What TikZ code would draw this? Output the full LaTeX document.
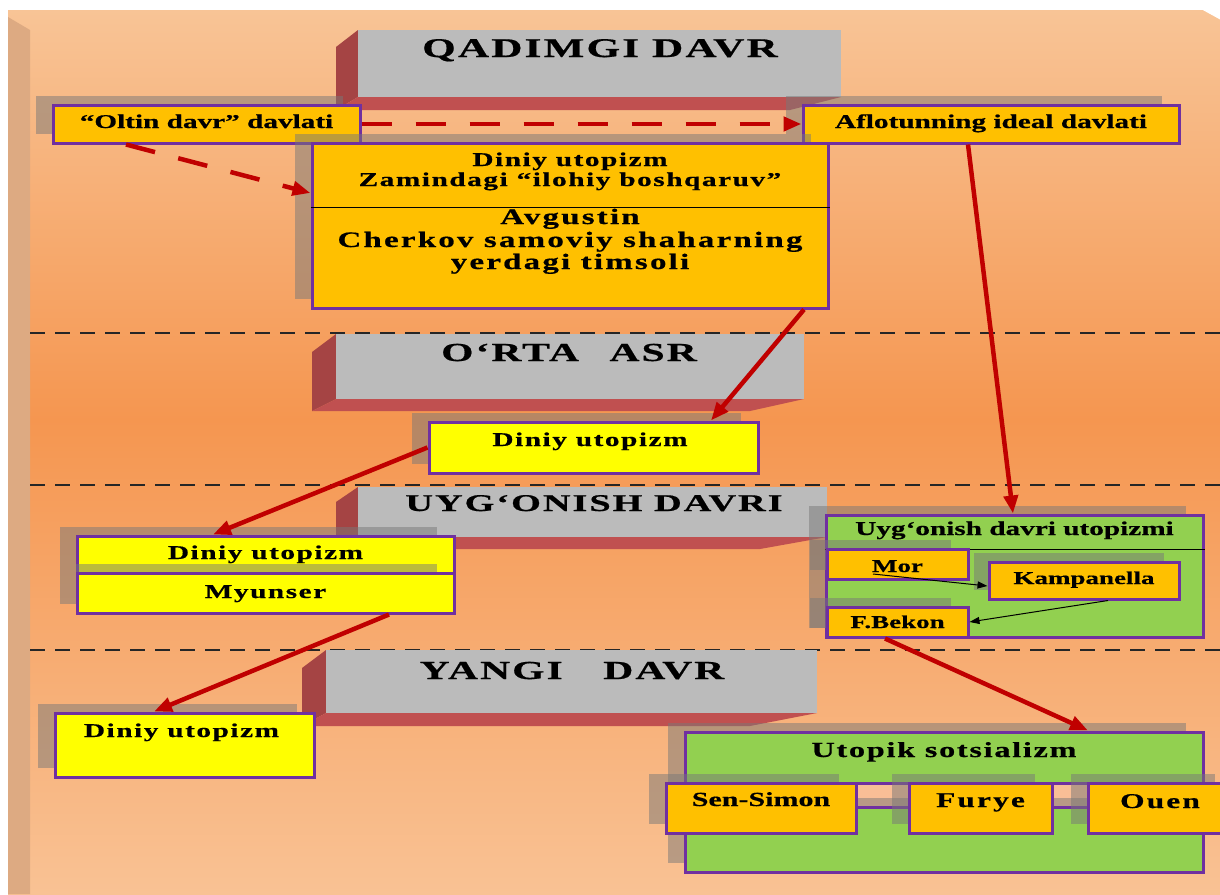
\documentclass[tikz,border=0pt]{standalone}
\usepackage{fontspec}
\setmainfont{Liberation Serif}
\newfontfamily\fpl{Liberation Serif}[FakeStretch=1.5,FakeBold=0.6]
\newfontfamily\fls{Liberation Serif}[FakeStretch=1.5,LetterSpace=8,FakeBold=0.6]
\newfontfamily\flt{Liberation Serif}[FakeStretch=1.5,LetterSpace=10,FakeBold=0.6]
\newfontfamily\fhd{Liberation Serif}[FakeStretch=1.6,LetterSpace=8,FakeBold=0.6]
\usetikzlibrary{arrows.meta,shadows}
\definecolor{pur}{RGB}{112,48,160}
\definecolor{org}{RGB}{255,192,0}
\definecolor{yel}{RGB}{255,255,0}
\definecolor{grn}{RGB}{146,208,80}
\definecolor{hgray}{RGB}{187,187,187}
\definecolor{redL}{RGB}{165,68,68}
\definecolor{redB}{RGB}{192,80,80}
\definecolor{arr}{RGB}{192,0,0}
\definecolor{shc}{RGB}{120,120,120}
\definecolor{bgT}{RGB}{248,196,150}
\definecolor{bgM}{RGB}{245,150,80}
\definecolor{bgB}{RGB}{249,194,148}
\definecolor{strip}{RGB}{221,170,130}
\definecolor{barc}{RGB}{249,190,150}
\newcommand\bsz[1]{\fontsize{#1}{#1}\selectfont\bfseries}
\begin{document}
\begin{tikzpicture}[x=1pt,y=-1pt,
  box/.style={draw=pur, line width=3pt, inner sep=0pt},
  shd/.style={general shadow={fill=shc, fill opacity=0.5, shadow xshift=-17pt, shadow yshift=9pt}},
  hdr/.style={fill=hgray, draw=none, inner sep=0pt},
  txt/.style={inner sep=0pt, anchor=base},
  rarr/.style={draw=arr, line width=4.5pt, -{Triangle[length=18pt,width=14pt]}},
  rdash/.style={rarr, dash pattern=on 30pt off 24pt},
  karr/.style={draw=black, line width=1pt, -{Triangle[length=10pt,width=7pt]}},
  sep/.style={draw=black!85, line width=2pt, dash pattern=on 15pt off 10pt}]
\useasboundingbox (0,0) rectangle (1220,894);
% background
\fill[white] (0,0) rectangle (1220,894);
\shade[top color=bgT, bottom color=bgM] (8,10) rectangle (1220,420);
\shade[top color=bgM, bottom color=bgB] (8,419.5) rectangle (1220,894);
\fill[white] (1201,9) -- (1221,9) -- (1221,20) -- cycle;
\fill[strip] (8,17) -- (30,30) -- (30,894) -- (8,894) -- cycle;
% separators
\draw[sep] (30,333) -- (1220,333);
\draw[sep] (30,485) -- (1220,485);
\draw[sep] (30,650) -- (1220,650);
% headers
\fill[redL] (336,47) -- (358,30) -- (358,97) -- (336,110) -- cycle;
\fill[redB] (336,110) -- (358,97) -- (841,97) -- (790,110) -- cycle;
\node[hdr, minimum width=483pt, minimum height=67pt] (h1) at (599.5,63.5) {};
\node[txt] (h1t) at (600,57) {\fhd\bsz{27}QADIMGI DAVR};

\fill[redL] (312,352) -- (336,334) -- (336,399) -- (312,411) -- cycle;
\fill[redB] (312,411) -- (336,399) -- (804,399) -- (750,411) -- cycle;
\node[hdr, minimum width=468pt, minimum height=65pt] (h2) at (570,366.5) {};
\node[txt] (h2t) at (569,361) {\fhd\bsz{26}O‘RTA\hspace{18pt} ASR};

\fill[redL] (336,502) -- (358,487) -- (358,537) -- (336,549) -- cycle;
\fill[redB] (336,549) -- (358,537) -- (827,537) -- (760,549) -- cycle;
\node[hdr, minimum width=469pt, minimum height=50pt] (h3) at (592.5,512) {};
\node[txt] (h3t) at (594,511) {\fhd\bsz{24}UYG‘ONISH DAVRI};

\fill[redL] (302,668) -- (326,650) -- (326,713) -- (302,726) -- cycle;
\fill[redB] (302,726) -- (326,713) -- (817,713) -- (750,726) -- cycle;
\node[hdr, minimum width=491pt, minimum height=63pt] (h4) at (571.5,681.5) {};
\node[txt] (h4t) at (572,679) {\fhd\bsz{26}YANGI\hspace{28pt} DAVR};

% top row
\node[box, fill=org, shd, minimum width=307pt, minimum height=38pt] (oltin) at (206.5,124) {};
\node[txt] (oltint) at (206.5,128) {\fpl\bsz{19.5}“Oltin davr” davlati};
\node[box, fill=org, shd, minimum width=376pt, minimum height=38pt] (aflo) at (991,124) {};
\node[txt] (aflot) at (991,128) {\fpl\bsz{19.5}Aflotunning ideal davlati};

% big box
\node[box, fill=org, shd, minimum width=516pt, minimum height=165pt] (big) at (570,225.5) {};
\draw[black, line width=1pt] (big.west |- 0,207) -- (big.east |- 0,207);
\node[txt] (b1) at (570,166) {\fls\bsz{19.5}Diniy utopizm};
\node[txt] (b2) at (570,186) {\fls\bsz{19.5}Zamindagi “ilohiy boshqaruv”};
\node[txt] (b3) at (570,224) {\flt\bsz{22}Avgustin};
\node[txt] (b4) at (570,247) {\flt\bsz{22}Cherkov samoviy shaharning};
\node[txt] (b5) at (570,269) {\flt\bsz{22}yerdagi timsoli};

% o'rta asr box
\node[box, fill=yel, shd, minimum width=329pt, minimum height=51pt] (orta) at (593.5,447.5) {};
\node[txt] (ortat) at (590,446) {\fls\bsz{19.5}Diniy utopizm};

% uyg'onish left
\node[box, fill=yel, shd, minimum width=377pt, minimum height=37pt] (ud) at (265.5,554.5) {};
\node[txt] (udt) at (265.5,559) {\fls\bsz{19.5}Diniy utopizm};
\node[box, fill=yel, shd, minimum width=377pt, minimum height=40pt] (my) at (265.5,593) {};
\node[txt] (myt) at (265.5,598) {\fls\bsz{19.5}Myunser};

% uyg'onish right
\node[box, fill=grn, shd, minimum width=377pt, minimum height=122pt] (ug) at (1014.5,576) {};
\node[txt] (ugt) at (1014.5,535) {\fpl\bsz{19.5}Uyg‘onish davri utopizmi};
\draw[black, line width=1pt] (ug.west |- 0,549) -- (ug.east |- 0,549);
\node[box, fill=org, shd, minimum width=141pt, minimum height=30pt] (mor) at (897.5,564) {};
\node[txt] (mort) at (897.5,572) {\fpl\bsz{18}Mor};
\node[box, fill=org, general shadow={fill=shc, fill opacity=0.5, shadow xshift=-15pt, shadow yshift=9pt}, minimum width=190pt, minimum height=37pt] (kamp) at (1084,580.5) {};
\node[txt] (kampt) at (1084,584) {\fpl\bsz{18}Kampanella};
\node[box, fill=org, shd, minimum width=141pt, minimum height=30pt] (bek) at (897.5,622) {};
\node[txt] (bekt) at (897.5,628) {\fpl\bsz{18}F.Bekon};
\draw[karr] ([xshift=-24.5pt,yshift=-10pt]mor.center) -- ([yshift=-5.5pt]kamp.west);
\draw[karr] ([xshift=24pt]kamp.south) -- (bek.east);

% yangi davr left
\node[box, fill=yel, shd, minimum width=259pt, minimum height=64pt] (yd) at (184.5,745) {};
\node[txt] (ydt) at (181.5,737) {\fls\bsz{19.5}Diniy utopizm};

% utopik sotsializm
\node[box, fill=grn, shd, minimum width=518pt, minimum height=140pt] (us) at (944,802) {};
\node[txt] (ust) at (944,757) {\fls\bsz{21.5}Utopik sotsializm};
\node[fill=barc, draw=pur, line width=3pt, inner sep=0pt, minimum width=232pt, minimum height=24pt] (bar) at (972,795.5) {};
\fill[shc, fill opacity=0.5] ([xshift=2pt]bar.west |- 0,798) rectangle ([xshift=-2pt]bar.east |- 0,806);
\node[box, fill=org, shd, minimum width=190pt, minimum height=50pt] (ss) at (761,808) {};
\node[txt] (sst) at (761,806) {\fpl\bsz{20}Sen-Simon};
\node[box, fill=org, shd, minimum width=143pt, minimum height=50pt] (fu) at (980.5,808) {};
\node[txt] (fut) at (980.5,807) {\flt\bsz{21}Furye};
\node[box, fill=org, shd, minimum width=144pt, minimum height=50pt] (ou) at (1160,808) {};
\node[txt] (out) at (1160,808) {\flt\bsz{21}Ouen};

% red connectors
\draw[rdash] (oltin.east) -- (aflo.west);
\draw[rdash] ([xshift=-80.5pt]oltin.south) -- ([yshift=32.5pt]big.west);
\draw[rarr] ([xshift=234pt]big.south) -- ([xshift=117.5pt]orta.north);
\draw[rarr] ([xshift=-23pt]aflo.south) -- ([xshift=-1.5pt]ug.north);
\draw[rarr] (orta.west) -- ([xshift=-52.5pt]ud.north);
\draw[rarr] ([xshift=123.5pt]my.south) -- ([xshift=-30.5pt]yd.north);
\draw[rarr] ([xshift=-12.5pt]bek.south) -- ([xshift=144pt]us.north);
\end{tikzpicture}
\end{document}
